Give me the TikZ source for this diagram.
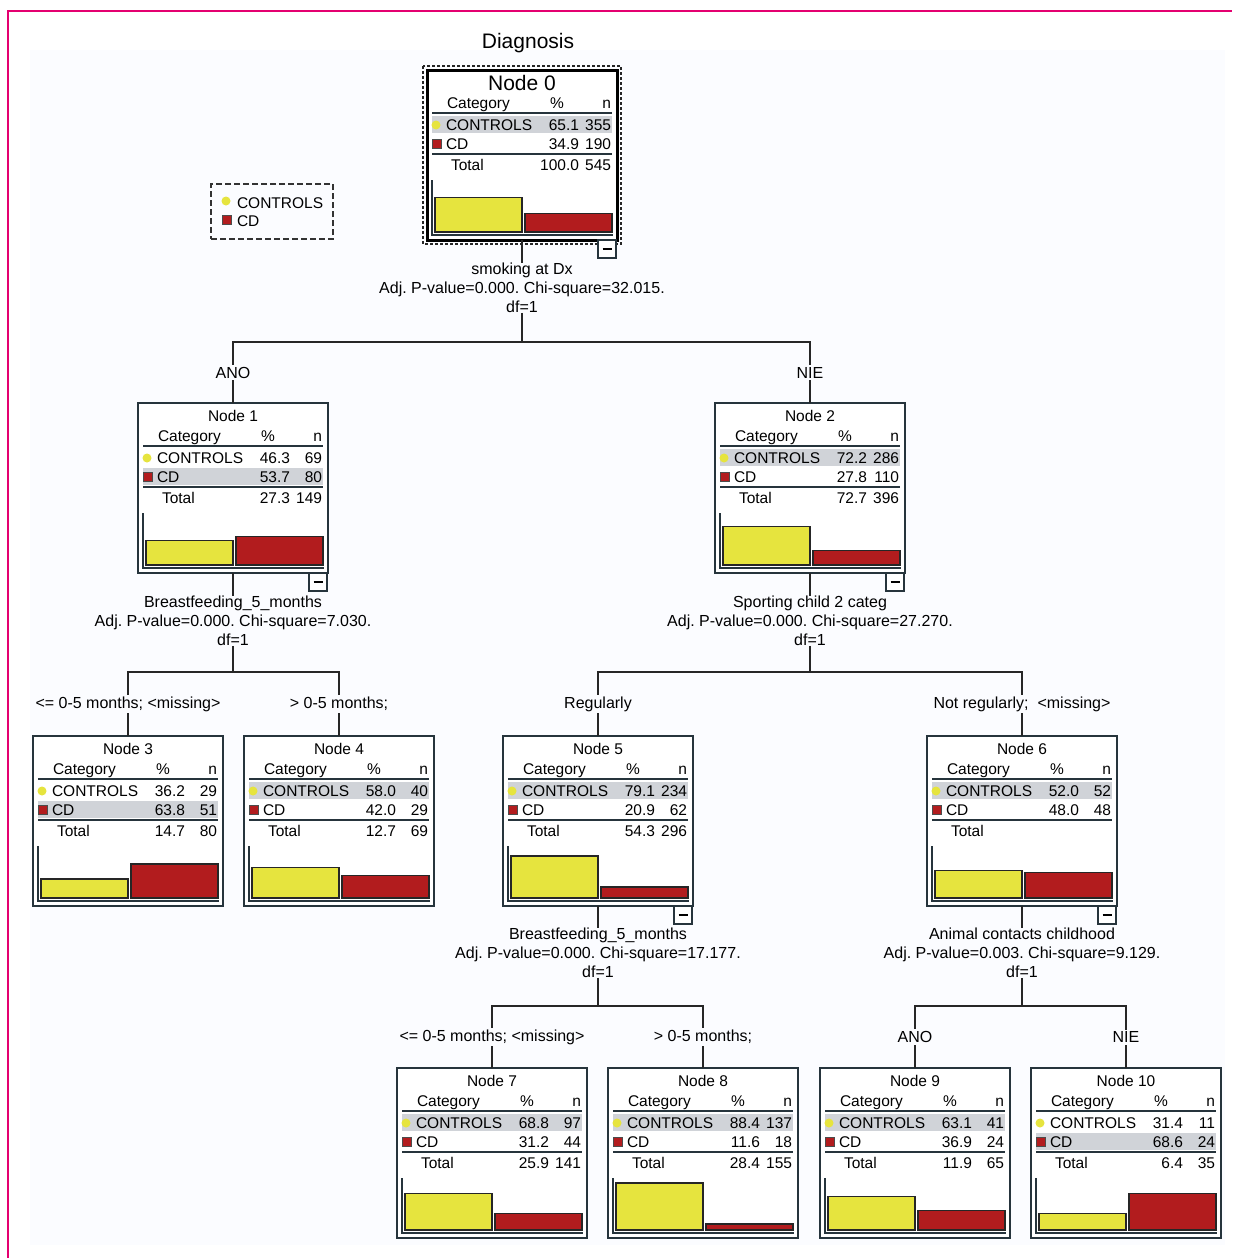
\documentclass[tikz,border=0pt]{standalone}
\usepackage{fontspec}
\setmainfont{Liberation Sans}
\usepackage{xcolor}
\usetikzlibrary{math}
\frenchspacing

\definecolor{boxline}{RGB}{38,52,60}
\definecolor{ctrl}{RGB}{230,228,62}
\definecolor{cd}{RGB}{178,28,30}
\definecolor{rowgray}{RGB}{208,211,216}
\definecolor{bgc}{RGB}{251,252,255}
\definecolor{frame}{RGB}{228,0,112}

\newcommand{\tblfont}{\fontsize{15.5}{18.5}\selectfont}
\newcommand{\lblfont}{\fontsize{16}{19}\selectfont}
\newcommand{\headfont}{\fontsize{21}{25}\selectfont}

% #1 node no., (#2,#3) top left, #4 #5 CONTROLS, #6 #7 CD, #8 #9 Total
\newcommand{\catnode}[9]{%
  \pgfmathsetmacro{\hctrl}{#4*\bscale}%
  \pgfmathsetmacro{\hcd}{#6*\bscale}%
  \pgfmathsetmacro{\shy}{#4>#6 ? 46 : 65}%
  \node[catbox] (n#1) at (#2+95,#3+85) {};
  \fill[rowgray] (#2+5,#3+\shy) rectangle (#2+185,#3+\shy+17);
  \draw[rule] (#2+5,#3+43) -- (#2+185,#3+43);
  \draw[rule] (#2+5,#3+84) -- (#2+185,#3+84);
  \node[txt] (n#1-title) at (#2+95,#3+13) {\ifnum#1=0 \headfont\fi Node #1};
  \node[txt, anchor=base west] (n#1-cat) at (#2+20,#3+38) {Category};
  \node[txt, anchor=base] (n#1-pct) at (#2+130,#3+38) {\%};
  \node[txt, anchor=base east] (n#1-n) at (#2+184,#3+38) {n};
  \fill[ctrl] (#2+9,#3+55) circle (4.5);
  \draw[cdsw] (#2+5,#3+69) rectangle (#2+14,#3+78);
  \node[txt, anchor=base west] (n#1-c) at (#2+19,#3+60.5) {CONTROLS};
  \node[txt, anchor=base east] (n#1-cp) at (#2+152,#3+60.5) {#4};
  \node[txt, anchor=base east] (n#1-cn) at (#2+184,#3+60.5) {#5};
  \node[txt, anchor=base west] (n#1-d) at (#2+19,#3+79.5) {CD};
  \node[txt, anchor=base east] (n#1-dp) at (#2+152,#3+79.5) {#6};
  \node[txt, anchor=base east] (n#1-dn) at (#2+184,#3+79.5) {#7};
  \node[txt, anchor=base west] (n#1-t) at (#2+24,#3+100.5) {Total};
  \node[txt, anchor=base east] (n#1-tp) at (#2+152,#3+100.5) {#8};
  \node[txt, anchor=base east] (n#1-tn) at (#2+184,#3+100.5) {#9};
  \draw[axis] (#2+5,#3+110) -- (#2+5,#3+165) -- (#2+186,#3+165);
  \draw[bar, fill=ctrl] (#2+8,#3+162) rectangle (#2+95,#3+162-\hctrl);
  \draw[bar, fill=cd] (#2+98,#3+162) rectangle (#2+185,#3+162-\hcd);
}
\newcommand{\minusmark}[1]{%
  \node[minusbox, anchor=north east] (n#1-m) at ([xshift=-1pt]n#1.south east) {\rule{9pt}{1.8pt}};
}

\begin{document}
\begin{tikzpicture}[x=1pt, y=-1pt]
\tikzset{
  base/.style={inner sep=0pt, outer sep=0pt},
  catbox/.style={base, draw=boxline, line width=1.8pt, fill=white, minimum width=190pt, minimum height=170pt},
  txt/.style={base, font=\tblfont},
  rule/.style={draw=boxline, line width=1.6pt},
  axis/.style={draw=boxline, line width=1.4pt},
  bar/.style={draw=black!85, line width=1.4pt},
  cdsw/.style={draw=black!70, fill=cd, line width=0.8pt},
  minusbox/.style={base, draw=boxline, line width=1.5pt, fill=white, minimum size=18pt},
  legendbox/.style={base, draw=black!80, dashed, dash pattern=on 6pt off 3pt, line width=1.5pt, minimum width=122pt, minimum height=55pt},
  zerodots/.style={draw=black!85, dash pattern=on 3pt off 2pt, line width=2.2pt},
  split/.style={base, align=center, font=\lblfont},
  branch/.style={base, fill=bgc, inner sep=2pt, font=\lblfont},
  edge/.style={draw=black!85, line width=1.6pt},
}

\tikzmath{\bscale=0.53;}

\useasboundingbox (0,0) rectangle (1232,1258);
\fill[bgc] (30,50) rectangle (1225,1245);
\draw[frame, line width=2.5pt] (8,1258) -- (8,11) -- (1232,11);

\node[txt, font=\headfont] (diag) at (528,43) {Diagnosis};

% legend
\node[legendbox] (legend) at (272,211.5) {};
\fill[ctrl] (226,201) circle (4.5);
\draw[cdsw] (222,215) rectangle (231,224);
\node[txt, anchor=base west] (leg-c) at (237,208.5) {CONTROLS};
\node[txt, anchor=base west] (leg-d) at (237,226.5) {CD};

\catnode{0}{427}{70}{65.1}{355}{34.9}{190}{100.0}{545}
\catnode{1}{138}{403}{46.3}{69}{53.7}{80}{27.3}{149}
\catnode{2}{715}{403}{72.2}{286}{27.8}{110}{72.7}{396}
\catnode{3}{33}{736}{36.2}{29}{63.8}{51}{14.7}{80}
\catnode{4}{244}{736}{58.0}{40}{42.0}{29}{12.7}{69}
\catnode{5}{503}{736}{79.1}{234}{20.9}{62}{54.3}{296}
\catnode{6}{927}{736}{52.0}{52}{48.0}{48}{}{}
\catnode{7}{397}{1068}{68.8}{97}{31.2}{44}{25.9}{141}
\catnode{8}{608}{1068}{88.4}{137}{11.6}{18}{28.4}{155}
\catnode{9}{820}{1068}{63.1}{41}{36.9}{24}{11.9}{65}
\catnode{10}{1031}{1068}{31.4}{11}{68.6}{24}{6.4}{35}

% root is selected
\draw[line width=3pt, black] (n0.north west) rectangle (n0.south east);
\draw[zerodots] ([shift={(-4,-4)}]n0.north west) rectangle ([shift={(4,4)}]n0.south east);

\minusmark{0}
\minusmark{1}
\minusmark{2}
\minusmark{5}
\minusmark{6}

% splits
\node[split] (s0) at (522,288) {smoking at Dx\\Adj. P-value=0.000. Chi-square=32.015.\\df=1};
\node[split] (s1) at (233,621) {Breastfeeding\_5\_months\\Adj. P-value=0.000. Chi-square=7.030.\\df=1};
\node[split] (s2) at (810,621) {Sporting child 2 categ\\Adj. P-value=0.000. Chi-square=27.270.\\df=1};
\node[split] (s5) at (598,953) {Breastfeeding\_5\_months\\Adj. P-value=0.000. Chi-square=17.177.\\df=1};
\node[split] (s6) at (1022,953) {Animal contacts childhood\\Adj. P-value=0.003. Chi-square=9.129.\\df=1};

\coordinate (j0) at (522,342);
\coordinate (j1) at (233,672);
\coordinate (j2) at (810,672);
\coordinate (j5) at (598,1006);
\coordinate (j6) at (1022,1006);

\draw[edge] (n0.south) -- (s0.north);
\draw[edge] (s0.south) -- (j0);
\draw[edge] (n1.north) -- node[branch] {ANO} (n1.north |- j0) -- (n2.north |- j0) -- node[branch] {NIE} (n2.north);

\draw[edge] (n1.south) -- (s1.north);
\draw[edge] (s1.south) -- (j1);
\draw[edge] (n3.north) -- node[branch] {<= 0-5 months; <missing>} (n3.north |- j1) -- (n4.north |- j1) -- node[branch] {> 0-5 months;} (n4.north);

\draw[edge] (n2.south) -- (s2.north);
\draw[edge] (s2.south) -- (j2);
\draw[edge] (n5.north) -- node[branch] {Regularly} (n5.north |- j2) -- (n6.north |- j2) -- node[branch] {Not regularly;~~<missing>} (n6.north);

\draw[edge] (n5.south) -- (s5.north);
\draw[edge] (s5.south) -- (j5);
\draw[edge] (n7.north) -- node[branch] {<= 0-5 months; <missing>} (n7.north |- j5) -- (n8.north |- j5) -- node[branch] {> 0-5 months;} (n8.north);

\draw[edge] (n6.south) -- (s6.north);
\draw[edge] (s6.south) -- (j6);
\draw[edge] (n9.north) -- node[branch] {ANO} (n9.north |- j6) -- (n10.north |- j6) -- node[branch] {NIE} (n10.north);
\end{tikzpicture}
\end{document}
